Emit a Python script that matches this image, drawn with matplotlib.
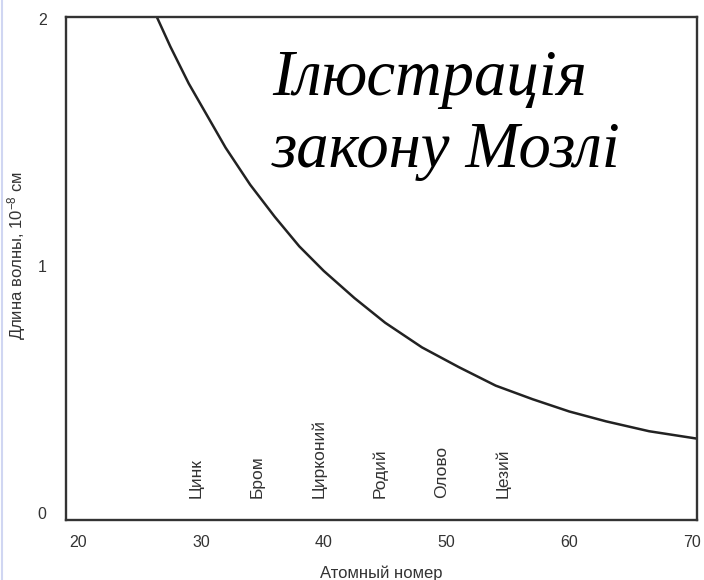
import matplotlib
matplotlib.use("Agg")
import matplotlib.pyplot as plt
from matplotlib.lines import Line2D

# curve: atomic number vs wavelength (10^-8 cm)
atomic_number = [26.4, 27.5, 29.0, 30.5, 32.0, 34.0, 36.0, 38.0, 40.0, 42.5, 45.0,
                 48.0, 51.0, 54.0, 57.0, 60.0, 63.0, 66.5, 70.4]
wavelength = [2.01, 1.89, 1.74, 1.61, 1.48, 1.33, 1.20, 1.08, 0.98, 0.87, 0.77,
              0.67, 0.59, 0.515, 0.46, 0.41, 0.37, 0.33, 0.30]

elements = ["Цинк", "Бром", "Цирконий", "Родий", "Олово", "Цезий"]
element_z = [30, 35, 40, 45, 50, 55]

x_ticks = [20, 30, 40, 50, 60, 70]
y_ticks = [0, 1, 2]

title_lines = ["Ілюстрація", "закону Мозлі"]

plt.rcParams["font.family"] = ["Liberation Sans", "DejaVu Sans"]
plt.rcParams["mathtext.fontset"] = "custom"
plt.rcParams["mathtext.rm"] = "Liberation Sans"
plt.rcParams["mathtext.it"] = "Liberation Sans:italic"

fig = plt.figure(figsize=(7.04, 5.80), dpi=100)
ax = fig.add_axes([66 / 704, 1 - 520 / 580, 631 / 704, 503 / 580])

ax.plot(atomic_number, wavelength, color="#222222", lw=1.8, solid_capstyle="round",
        solid_joinstyle="round")

ax.set_xlim(19.0, 70.4)
ax.set_ylim(-0.03, 2.01)
ax.set_xticks(x_ticks)
ax.set_yticks(y_ticks)
ax.tick_params(length=0, labelsize=11.5, labelcolor="#333333")
ax.tick_params(axis="x", pad=11)
ax.tick_params(axis="y", pad=14)

for s in ax.spines.values():
    s.set_color("#333333")
    s.set_linewidth(1.7)

for name, z in zip(elements, element_z):
    ax.text(z - 0.4, 0.06, name, rotation=90, ha="center", va="bottom",
            fontsize=12.5, color="#333333")

ax.set_xlabel("Атомный номер", fontsize=12, color="#333333", labelpad=11)
ax.set_ylabel("Длина волны, 10$^{-8}$ см", fontsize=12, color="#333333")
ax.yaxis.set_label_coords(-0.060, 0.525)

fig.text(272 / 704, 1 - 95 / 580, title_lines[0], family="Liberation Serif",
         style="italic", fontsize=46.5, ha="left", va="baseline", color="black")
fig.text(272 / 704, 1 - 167 / 580, title_lines[1], family="Liberation Serif",
         style="italic", fontsize=46.5, ha="left", va="baseline", color="black")

# faint slide edge on the left
fig.add_artist(Line2D([2 / 704, 2 / 704], [0, 1], color="#d0d6f2", lw=1.5))

fig.savefig("out.png", dpi=100)
